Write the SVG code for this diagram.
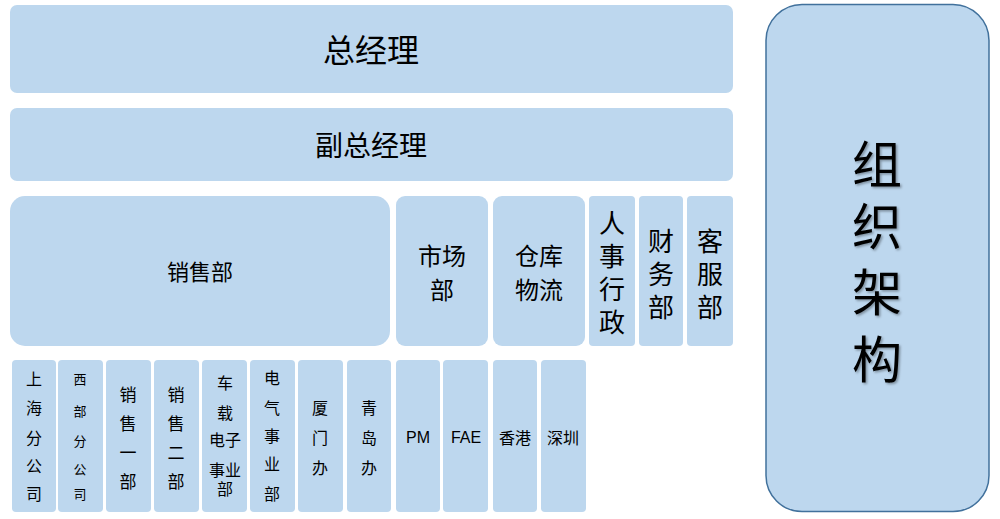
<svg xmlns="http://www.w3.org/2000/svg" width="1000" height="519" viewBox="0 0 1000 519">
<defs>
<style>
.b{fill:#BDD7EE;}
.t{font-family:"Noto Sans CJK SC","Liberation Sans",sans-serif;fill:#000;text-anchor:middle;dominant-baseline:central;}
.l{font-family:"Liberation Sans","Noto Sans CJK SC",sans-serif;fill:#000;text-anchor:middle;dominant-baseline:central;}
</style>
<filter id="sh" x="-20%" y="-20%" width="140%" height="140%">
<feDropShadow dx="1.5" dy="1.5" stdDeviation="1" flood-color="#000" flood-opacity="0.35"/>
</filter>
</defs>
<rect width="1000" height="519" fill="#fff"/>
<g id="gm"><rect class="b" x="10" y="5" width="723" height="88" rx="7"/><text class="t" x="371" y="48" font-size="32">总经理</text></g>
<g id="vgm"><rect class="b" x="10" y="108" width="723" height="73" rx="7"/><text class="t" x="371" y="144" font-size="28">副总经理</text></g>
<g id="sales"><rect class="b" x="10" y="196" width="380" height="150" rx="15"/><text class="t" x="200" y="270" font-size="22">销售部</text></g>
<g id="market"><rect class="b" x="396" y="196" width="92" height="150" rx="9"/><text class="t" x="442" y="254" font-size="24">市场</text><text class="t" x="442" y="288" font-size="24">部</text></g>
<g id="logistics"><rect class="b" x="493" y="196" width="92" height="150" rx="9"/><text class="t" x="539" y="254" font-size="24">仓库</text><text class="t" x="539" y="288" font-size="24">物流</text></g>
<g id="hr"><rect class="b" x="589" y="196" width="46" height="150" rx="4"/><text class="t" x="612" y="221" font-size="26">人</text><text class="t" x="612" y="254" font-size="26">事</text><text class="t" x="612" y="287" font-size="26">行</text><text class="t" x="612" y="320" font-size="26">政</text></g>
<g id="finance"><rect class="b" x="639" y="196" width="44" height="150" rx="4"/><text class="t" x="661" y="239" font-size="26">财</text><text class="t" x="661" y="272" font-size="26">务</text><text class="t" x="661" y="305" font-size="26">部</text></g>
<g id="cs"><rect class="b" x="687" y="196" width="46" height="150" rx="4"/><text class="t" x="710" y="239" font-size="26">客</text><text class="t" x="710" y="272" font-size="26">服</text><text class="t" x="710" y="305" font-size="26">部</text></g>
<g id="sh1"><rect class="b" x="12" y="360" width="44" height="152" rx="4"/><text class="t" x="34" y="378" font-size="16">上</text><text class="t" x="34" y="407" font-size="16">海</text><text class="t" x="34" y="437" font-size="16">分</text><text class="t" x="34" y="465" font-size="16">公</text><text class="t" x="34" y="493" font-size="16">司</text></g>
<g id="west"><rect class="b" x="58" y="360" width="45" height="152" rx="4"/><text class="t" x="80" y="378" font-size="13">西</text><text class="t" x="80" y="410" font-size="13">部</text><text class="t" x="80" y="440" font-size="13">分</text><text class="t" x="80" y="468" font-size="13">公</text><text class="t" x="80" y="493" font-size="13">司</text></g>
<g id="s1"><rect class="b" x="106" y="360" width="45" height="152" rx="4"/><text class="t" x="128" y="393" font-size="17">销</text><text class="t" x="128" y="422" font-size="17">售</text><text class="t" x="128" y="451" font-size="17">一</text><text class="t" x="128" y="480" font-size="17">部</text></g>
<g id="s2"><rect class="b" x="154" y="360" width="45" height="152" rx="4"/><text class="t" x="176" y="393" font-size="17">销</text><text class="t" x="176" y="422" font-size="17">售</text><text class="t" x="176" y="451" font-size="17">二</text><text class="t" x="176" y="480" font-size="17">部</text></g>
<g id="auto"><rect class="b" x="202" y="360" width="45" height="152" rx="4"/><text class="t" x="225" y="382" font-size="16">车</text><text class="t" x="225" y="412" font-size="16">载</text><text class="t" x="225" y="439" font-size="16">电子</text><text class="t" x="225" y="469" font-size="16">事业</text><text class="t" x="225" y="488" font-size="16">部</text></g>
<g id="elec"><rect class="b" x="250" y="360" width="45" height="152" rx="4"/><text class="t" x="272" y="377" font-size="16">电</text><text class="t" x="272" y="407" font-size="16">气</text><text class="t" x="272" y="435" font-size="16">事</text><text class="t" x="272" y="463" font-size="16">业</text><text class="t" x="272" y="493" font-size="16">部</text></g>
<g id="xm"><rect class="b" x="298" y="360" width="45" height="152" rx="4"/><text class="t" x="320" y="407" font-size="16">厦</text><text class="t" x="320" y="437" font-size="16">门</text><text class="t" x="320" y="467" font-size="16">办</text></g>
<g id="qd"><rect class="b" x="347" y="360" width="44" height="152" rx="4"/><text class="t" x="369" y="407" font-size="16">青</text><text class="t" x="369" y="437" font-size="16">岛</text><text class="t" x="369" y="467" font-size="16">办</text></g>
<g id="pm"><rect class="b" x="396" y="360" width="44" height="152" rx="4"/><text class="l" x="418" y="437" font-size="16">PM</text></g>
<g id="fae"><rect class="b" x="443" y="360" width="45" height="152" rx="4"/><text class="l" x="466" y="437" font-size="16">FAE</text></g>
<g id="hk"><rect class="b" x="493" y="360" width="44" height="152" rx="4"/><text class="t" x="515" y="437" font-size="16">香港</text></g>
<g id="sz"><rect class="b" x="541" y="360" width="45" height="152" rx="4"/><text class="t" x="563" y="437" font-size="16">深圳</text></g>
<g id="org"><rect x="766" y="4.5" width="223" height="507" rx="36" fill="#BDD7EE" stroke="#41719C" stroke-width="1.5"/>
<g filter="url(#sh)"><text class="t" x="877" y="161" font-size="50">组</text><text class="t" x="877" y="223" font-size="50">织</text><text class="t" x="877" y="289" font-size="50">架</text><text class="t" x="877" y="356" font-size="50">构</text></g></g>
<g id="connectors"></g>
</svg>
